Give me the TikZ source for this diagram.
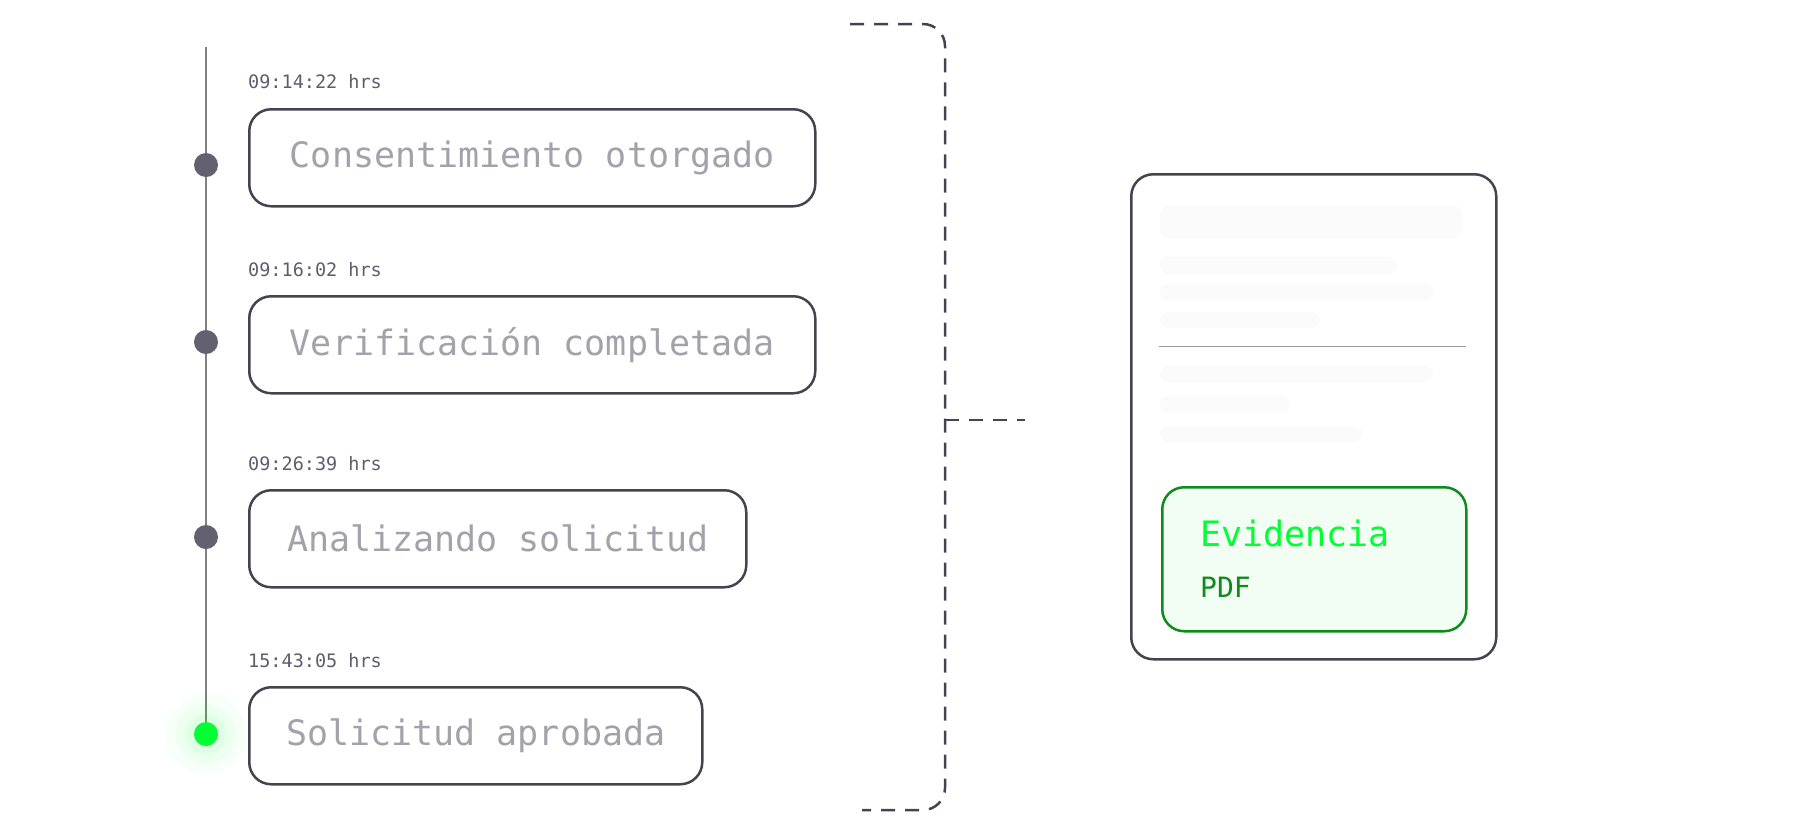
\documentclass[tikz,border=0pt]{standalone}
\usepackage{fontspec}
\setmonofont{DejaVu Sans Mono}
\definecolor{bord}{HTML}{45434F}
\definecolor{ts}{HTML}{5F5D6B}
\definecolor{bt}{HTML}{A3A1AA}
\definecolor{dot}{HTML}{63616F}
\definecolor{gr}{HTML}{00FF33}
\definecolor{dg}{HTML}{0F8A1E}
\definecolor{lg}{HTML}{F2FDF3}
\definecolor{ph}{HTML}{FBFBFB}
\begin{document}
\begin{tikzpicture}[x=1pt,y=-1pt,
  evbox/.style={draw=bord,line width=2.5pt,rounded corners=22pt,minimum height=97pt,anchor=north west,text=bt,font=\ttfamily\fontsize{35}{40}\selectfont,inner xsep=22pt,align=left},
  tstamp/.style={anchor=south west,text=ts,font=\ttfamily\fontsize{18.5}{22}\selectfont,inner sep=0pt},
  tdot/.style={circle,fill=dot,minimum size=24pt,inner sep=0pt},
  bracket/.style={draw=bord,line width=2.5pt,dash pattern=on 14pt off 10pt},
  phl/.style={fill=ph,rounded corners=8pt}]
\useasboundingbox (0,0) rectangle (1800,831);
% timeline
\coordinate (tl0) at (206,47); \coordinate (tl1) at (206,735);
\draw[gray,line width=1.2pt] (tl0) -- (tl1);
\foreach \r/\o in {40/3,30/4,20/6,12/8}{\fill[gr,opacity=0.0\o] (206,734) circle (\r pt);}
\node[tdot] (d1) at (206,165) {};
\node[tdot] (d2) at (206,342) {};
\node[tdot] (d3) at (206,537) {};
\node[tdot,fill=gr] (d4) at (206,734) {};
\node[tstamp] (t1) at (248,89) {09:14:22 hrs};
\node[tstamp] (t2) at (248,277) {09:16:02 hrs};
\node[tstamp] (t3) at (248,471) {09:26:39 hrs};
\node[tstamp] (t4) at (248,668) {15:43:05 hrs};
\node[evbox,minimum width=566pt] (b1) at (248,108) {Consentimiento otorgado};
\node[evbox,minimum width=566pt] (b2) at (248,295) {Verificación completada};
\node[evbox,minimum width=497pt] (b3) at (248,489) {Analizando solicitud};
\node[evbox,minimum width=453pt] (b4) at (248,686) {Solicitud aprobada};
% bracket
\coordinate (bA) at (850,24); \coordinate (bB) at (945,24); \coordinate (bC) at (945,810);
\coordinate (bD) at (862,810); \coordinate (bM) at (945,420); \coordinate (bE) at (1025,420);
\draw[bracket,rounded corners=22pt] (bA) -- (bB) -- (bC) -- (bD);
\draw[bracket] (bM) -- (bE);
% document card
\node[draw=bord,line width=2.5pt,rounded corners=22pt,minimum width=365pt,minimum height=485pt,anchor=north west] (card) at (1130,173) {};
\fill[phl] (1160,206) rectangle (1462,238);
\fill[phl] (1160,257) rectangle (1397,274);
\fill[phl] (1160,284) rectangle (1433,300);
\fill[phl] (1160,312) rectangle (1320,328);
\draw[gray!80,line width=1pt] (1159,346) -- (1466,346);
\fill[phl] (1160,366) rectangle (1433,382);
\fill[phl] (1160,396) rectangle (1290,412);
\fill[phl] (1160,426) rectangle (1362,442);
\node[draw=dg,fill=lg,line width=2.5pt,rounded corners=22pt,minimum width=304pt,minimum height=144pt,anchor=north west] (ev) at (1161,486) {};
\node[anchor=base west,inner sep=0pt,text=gr,font=\ttfamily\fontsize{35}{40}\selectfont] (evt) at (1200,546) {Evidencia};
\node[anchor=base west,inner sep=0pt,text=dg,font=\ttfamily\fontsize{28}{32}\selectfont] (pdf) at (1200,597) {PDF};
\end{tikzpicture}
\end{document}
